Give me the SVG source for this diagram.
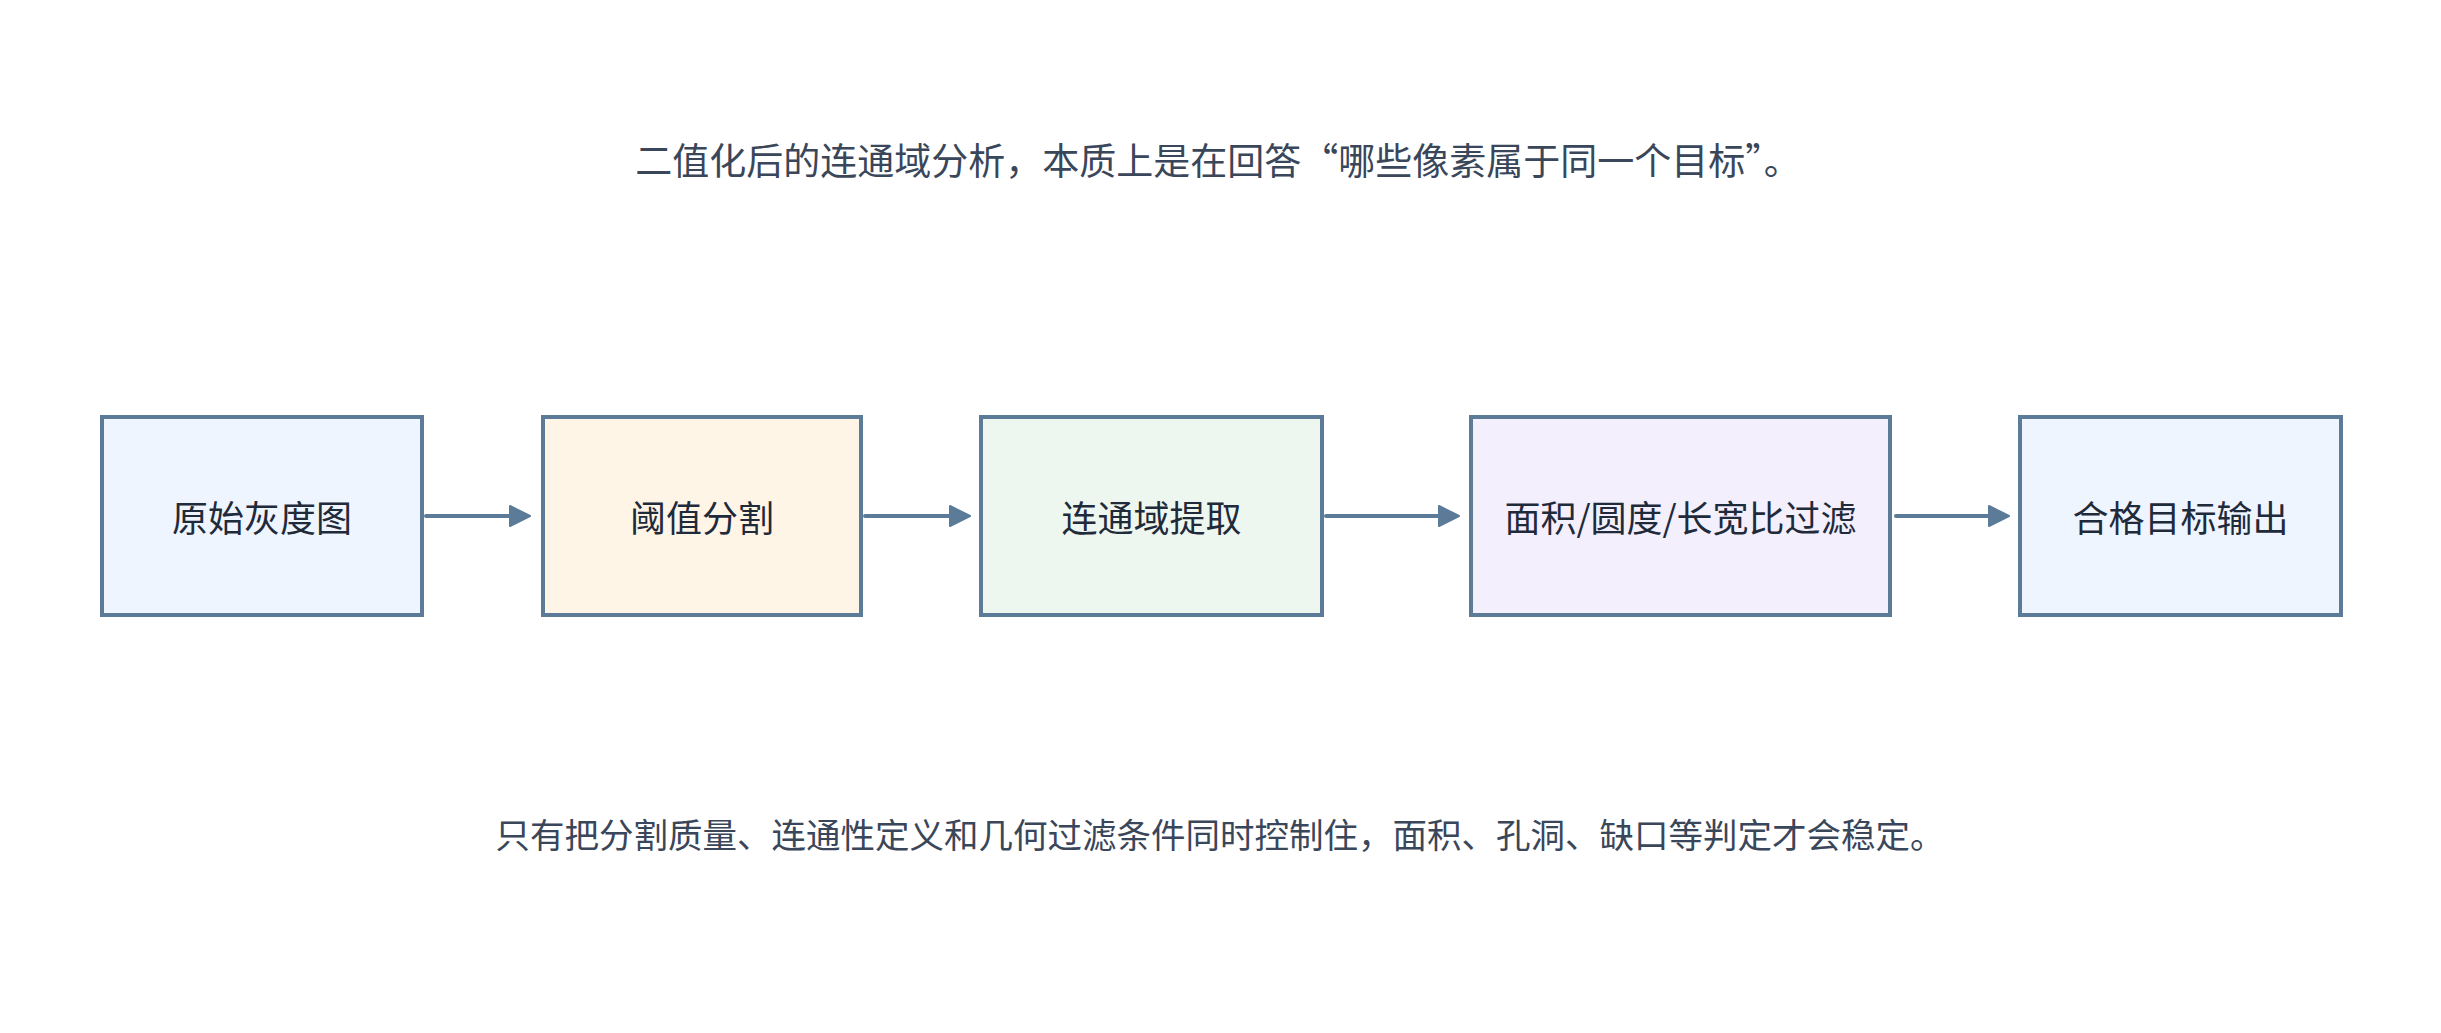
<svg xmlns="http://www.w3.org/2000/svg" width="2441" height="1033" viewBox="0 0 2441 1033">
<style>
.node rect{stroke:#5b7b99;stroke-width:4}
.label{font-family:"Noto Sans CJK SC","Noto Sans",sans-serif;font-size:36px;fill:#1f2a3a;text-anchor:middle;dominant-baseline:central}
.note{font-family:"Noto Sans CJK SC","Noto Sans",sans-serif;font-size:37px;fill:#3a4659;text-anchor:middle;dominant-baseline:central}
.edge{stroke:#5b7b99;stroke-width:4;stroke-linecap:round;fill:none}
</style>
<defs>
<marker id="arr" viewBox="0 0 22 22" refX="2" refY="11" markerWidth="22" markerHeight="22" markerUnits="userSpaceOnUse" orient="auto">
<path d="M1,1 L21,11 L1,21 Z" fill="#5b7b99" stroke="#5b7b99" stroke-width="2" stroke-linejoin="round"/>
</marker>
</defs>
<rect width="2441" height="1033" fill="#ffffff"/>
<text class="note" x="1218" y="159">二值化后的连通域分析，本质上是在回答“哪些像素属于同一个目标”。</text>
<g id="connectors">
<line class="edge" x1="426" y1="516" x2="511" y2="516" marker-end="url(#arr)"/>
<line class="edge" x1="865" y1="516" x2="951" y2="516" marker-end="url(#arr)"/>
<line class="edge" x1="1326" y1="516" x2="1440" y2="516" marker-end="url(#arr)"/>
<line class="edge" x1="1896" y1="516" x2="1990" y2="516" marker-end="url(#arr)"/>
</g>
<g id="n1" class="node"><rect x="102" y="417" width="320" height="198" fill="#eef5fe"/><text class="label" x="262" y="516">原始灰度图</text></g>
<g id="n2" class="node"><rect x="543" y="417" width="318" height="198" fill="#fef5e7"/><text class="label" x="702" y="516">阈值分割</text></g>
<g id="n3" class="node"><rect x="981" y="417" width="341" height="198" fill="#edf7ef"/><text class="label" x="1151.5" y="516">连通域提取</text></g>
<g id="n4" class="node"><rect x="1471" y="417" width="419" height="198" fill="#f4effd"/><text class="label" x="1680.5" y="516">面积/圆度/长宽比过滤</text></g>
<g id="n5" class="node"><rect x="2020" y="417" width="321" height="198" fill="#eef5fe"/><text class="label" x="2180.5" y="516">合格目标输出</text></g>
<text class="note" x="1220" y="833" style="font-size:34.5px">只有把分割质量、连通性定义和几何过滤条件同时控制住，面积、孔洞、缺口等判定才会稳定。</text>
</svg>
